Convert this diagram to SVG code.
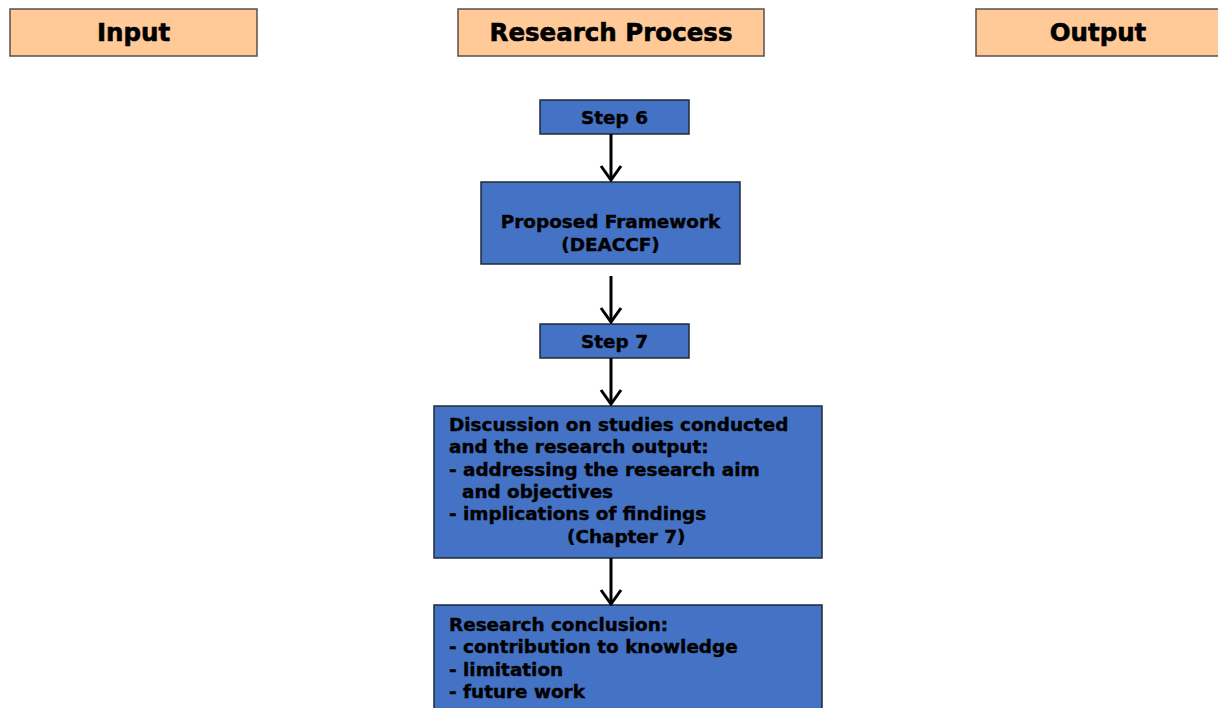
<svg xmlns="http://www.w3.org/2000/svg" width="1218" height="708" viewBox="0 0 1218 708">
  <defs>
    <style>
      .head { fill: #FFCA98; stroke: #5a5048; stroke-width: 1.5; }
      .headtxt { font-family: "DejaVu Sans", Verdana, sans-serif; font-weight: bold; font-size: 24.5px; fill: #000; stroke: #000; stroke-width: 0.6; text-anchor: middle; }
      .box { fill: #4472C4; stroke: #1f2a3a; stroke-width: 1.5; }
      .txt { font-family: "DejaVu Sans", Verdana, sans-serif; font-weight: bold; font-size: 18.4px; fill: #000; stroke: #000; stroke-width: 0.4; }
      .mid { text-anchor: middle; }
      .conn { stroke: #000; stroke-width: 3; fill: none; }
    </style>
    <marker id="chev" markerUnits="userSpaceOnUse" markerWidth="18" markerHeight="26" refX="16" refY="13" orient="auto" viewBox="0 0 18 26">
      <polyline points="2,3 16,13 2,23" fill="none" stroke="#000" stroke-width="3"/>
    </marker>
  </defs>
  <rect width="1218" height="708" fill="#fff"/>

  <!-- column headers -->
  <g id="hdr-input">
    <rect class="head" x="10" y="9" width="247" height="47"/>
    <text class="headtxt" x="133.5" y="41">Input</text>
  </g>
  <g id="hdr-process">
    <rect class="head" x="458" y="9" width="306" height="47"/>
    <text class="headtxt" x="611" y="41">Research Process</text>
  </g>
  <g id="hdr-output">
    <rect class="head" x="976" y="9" width="250" height="47"/>
    <text class="headtxt" x="1098" y="41">Output</text>
  </g>

  <!-- process steps -->
  <g id="step6">
    <rect class="box" x="540" y="100" width="149" height="34"/>
    <text class="txt mid" x="614.5" y="124">Step 6</text>
  </g>
  <g id="framework">
    <rect class="box" x="481" y="182" width="259" height="82"/>
    <text class="txt mid" x="610.5" y="228">Proposed Framework</text>
    <text class="txt mid" x="610.5" y="251">(DEACCF)</text>
  </g>
  <g id="step7">
    <rect class="box" x="540" y="324" width="149" height="34"/>
    <text class="txt mid" x="614.5" y="348">Step 7</text>
  </g>
  <g id="discussion">
    <rect class="box" x="434" y="406" width="388" height="152"/>
    <text class="txt" x="449" y="431">Discussion on studies conducted</text>
    <text class="txt" x="449" y="453">and the research output:</text>
    <text class="txt" x="449" y="476">- addressing the research aim</text>
    <text class="txt" x="462" y="498">and objectives</text>
    <text class="txt" x="449" y="520">- implications of findings</text>
    <text class="txt" x="567" y="543">(Chapter 7)</text>
  </g>
  <g id="conclusion">
    <rect class="box" x="434" y="605" width="388" height="110"/>
    <text class="txt" x="449" y="631">Research conclusion:</text>
    <text class="txt" x="449" y="653">- contribution to knowledge</text>
    <text class="txt" x="449" y="676">- limitation</text>
    <text class="txt" x="449" y="698">- future work</text>
  </g>

  <!-- connectors -->
  <g id="connectors">
    <line class="conn" x1="611" y1="134" x2="611" y2="180" marker-end="url(#chev)"/>
    <line class="conn" x1="611" y1="276" x2="611" y2="322" marker-end="url(#chev)"/>
    <line class="conn" x1="611" y1="358" x2="611" y2="404" marker-end="url(#chev)"/>
    <line class="conn" x1="611" y1="558" x2="611" y2="604" marker-end="url(#chev)"/>
  </g>
</svg>
